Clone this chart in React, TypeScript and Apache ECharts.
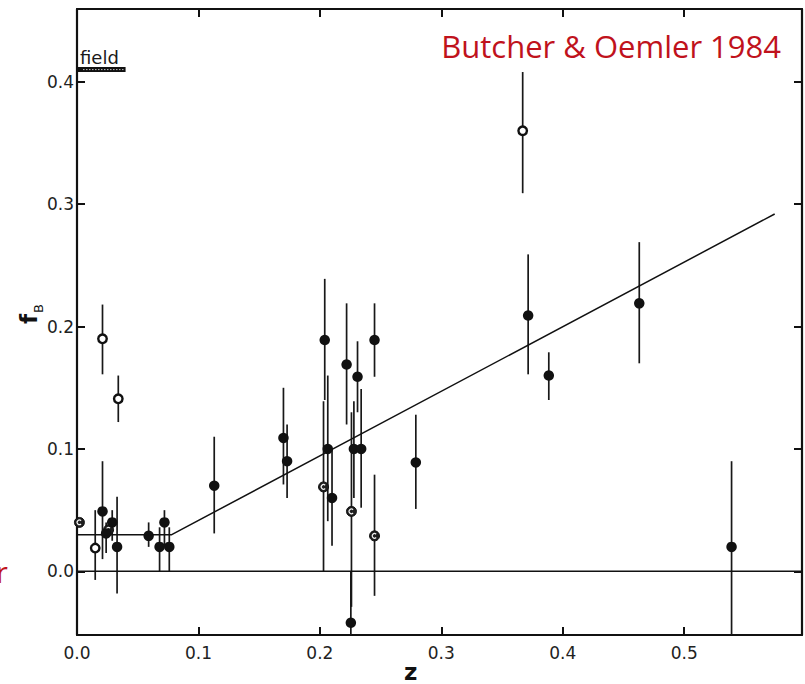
import React, { useEffect, useRef } from "react";
import * as echarts from "echarts";

// Axis extents (redshift z, blue fraction fB)
const X_MIN = 0;
const X_MAX = 0.597;
const Y_MIN = -0.052;
const Y_MAX = 0.4595;

const xTickValues = [0, 0.1, 0.2, 0.3, 0.4, 0.5];
const yTickValues = [0, 0.1, 0.2, 0.3, 0.4];

// Clusters: [z, fB, lower end of error bar, upper end of error bar]
const filledClusters = [
  [0.021, 0.049, 0.010, 0.090],
  [0.024, 0.031, 0.015, 0.040],
  [0.029, 0.040, 0.025, 0.050],
  [0.033, 0.020, -0.018, 0.061],
  [0.059, 0.029, 0.020, 0.040],
  [0.068, 0.020, 0.0, 0.036],
  [0.072, 0.040, 0.020, 0.050],
  [0.076, 0.020, 0.0, 0.036],
  [0.113, 0.070, 0.031, 0.110],
  [0.170, 0.109, 0.071, 0.150],
  [0.173, 0.090, 0.060, 0.120],
  [0.204, 0.189, 0.140, 0.239],
  [0.2065, 0.100, 0.041, 0.160],
  [0.210, 0.060, 0.021, 0.100],
  [0.222, 0.169, 0.120, 0.219],
  [0.2255, -0.042, -0.06, 0.0],
  [0.228, 0.100, 0.060, 0.139],
  [0.231, 0.159, 0.130, 0.188],
  [0.234, 0.100, 0.052, 0.149],
  [0.245, 0.189, 0.159, 0.219],
  [0.279, 0.089, 0.051, 0.128],
  [0.3715, 0.209, 0.161, 0.259],
  [0.3885, 0.160, 0.140, 0.179],
  [0.463, 0.219, 0.170, 0.269],
  [0.539, 0.020, -0.06, 0.090],
];

const openClusters = [
  [0.015, 0.019, -0.007, 0.050],
  [0.021, 0.190, 0.161, 0.218],
  [0.034, 0.141, 0.122, 0.160],
  [0.367, 0.360, 0.309, 0.408],
];

const halfClusters = [
  [0.002, 0.040, 0.040, 0.040],
  [0.026, 0.034, 0.034, 0.034],
  [0.203, 0.069, 0.0, 0.139],
  [0.226, 0.049, -0.029, 0.130],
  [0.245, 0.029, -0.020, 0.079],
];

// Field galaxy level: [z from, z to, fB]
const fieldBand = [[0, 0.04, 0.41]];

// Fitted trend: flat at low z, then rising linearly
const trendLine = [
  [0, 0.03],
  [0.078, 0.03],
  [0.5745, 0.292],
];

const zeroLine = [
  [X_MIN, 0],
  [X_MAX, 0],
];

const INK = "#111111";
const LABEL_FONT = "DejaVu Sans";

function frameAxis(position: string, showLabels: boolean, ticks: number[], isX: boolean) {
  return {
    type: "value",
    position,
    min: isX ? X_MIN : Y_MIN,
    max: isX ? X_MAX : Y_MAX,
    axisLine: { show: true, onZero: false, lineStyle: { color: INK, width: 2.2 } },
    axisTick: {
      show: true,
      inside: true,
      length: 8,
      customValues: ticks,
      lineStyle: { color: INK, width: 2 },
    },
    axisLabel: {
      show: showLabels,
      customValues: ticks,
      formatter: (v: number) => v.toFixed(1),
      margin: isX ? 9 : 3,
      fontFamily: LABEL_FONT,
      fontSize: 17,
      color: "#222",
    },
    splitLine: { show: false },
  };
}

function errorBarItem(params: any, api: any) {
  const z = api.value(0);
  const lo = api.value(2);
  const hi = api.value(3);
  if (lo === hi) return null;
  const a = api.coord([z, lo]);
  const b = api.coord([z, hi]);
  return {
    type: "line",
    shape: { x1: a[0], y1: a[1], x2: b[0], y2: b[1] },
    style: { stroke: "#181818", lineWidth: 1.7 },
  };
}

function halfMarkerItem(params: any, api: any) {
  const p = api.coord([api.value(0), api.value(1)]);
  return {
    type: "group",
    children: [
      {
        type: "circle",
        shape: { cx: p[0], cy: p[1], r: 5 },
        style: { fill: "#1e1e1e", stroke: INK, lineWidth: 1 },
      },
      {
        type: "arc",
        shape: {
          cx: p[0],
          cy: p[1],
          r: 2.3,
          startAngle: Math.PI / 4,
          endAngle: (7 * Math.PI) / 4,
          clockwise: true,
        },
        style: { stroke: "#f2f2f2", lineWidth: 1.2, fill: null },
      },
    ],
  };
}

function fieldBandItem(params: any, api: any) {
  const a = api.coord([api.value(0), api.value(2)]);
  const b = api.coord([api.value(1), api.value(2)]);
  return {
    type: "group",
    children: [
      {
        type: "rect",
        shape: { x: a[0], y: a[1] - 2.5, width: b[0] - a[0], height: 5 },
        style: { fill: INK },
      },
      {
        type: "line",
        shape: { x1: a[0] + 6, y1: a[1], x2: b[0] - 2, y2: b[1] },
        style: { stroke: "#bdbdbd", lineWidth: 1, lineDash: [1.5, 1.5] },
      },
      {
        type: "text",
        x: a[0] + 3,
        y: a[1] - 3,
        style: {
          text: "field",
          fontFamily: LABEL_FONT,
          fontSize: 18,
          fill: "#1a1a1a",
          verticalAlign: "bottom",
          align: "left",
        },
      },
    ],
  };
}

export default function App() {
  const ref = useRef<HTMLDivElement>(null);

  useEffect(() => {
    if (!ref.current) return;
    const chart = echarts.init(ref.current, undefined, { renderer: "svg" });

    chart.setOption({
      animation: false,
      backgroundColor: "#ffffff",
      grid: { left: 77, right: 3, top: 9, bottom: 49, containLabel: false },
      xAxis: [
        frameAxis("bottom", true, xTickValues, true),
        frameAxis("top", false, xTickValues, true),
      ],
      yAxis: [
        frameAxis("left", true, yTickValues, false),
        frameAxis("right", false, yTickValues, false),
      ],
      graphic: [
        {
          type: "text",
          right: 24,
          top: 30,
          style: {
            text: "Butcher & Oemler 1984",
            fontFamily: "Open Sans",
            fontSize: 31,
            fill: "#c0121c",
          },
        },
        {
          type: "text",
          left: -4,
          top: 557,
          style: {
            text: "r",
            fontFamily: "Open Sans",
            fontSize: 29,
            fill: "#c0121c",
          },
        },
        {
          type: "text",
          left: 404,
          top: 660,
          style: {
            text: "z",
            fontFamily: LABEL_FONT,
            fontWeight: "bold",
            fontSize: 23,
            fill: "#111",
          },
        },
        {
          type: "text",
          x: 40,
          y: 324,
          rotation: Math.PI / 2,
          style: {
            text: "f",
            fontFamily: LABEL_FONT,
            fontWeight: "bold",
            fontSize: 23,
            fill: "#111",
            align: "left",
            verticalAlign: "bottom",
          },
        },
        {
          type: "text",
          x: 45,
          y: 313,
          rotation: Math.PI / 2,
          style: {
            text: "B",
            fontFamily: LABEL_FONT,
            fontSize: 13,
            fill: "#111",
            align: "left",
            verticalAlign: "bottom",
          },
        },
      ],
      series: [
        {
          type: "line",
          data: zeroLine,
          symbol: "none",
          silent: true,
          lineStyle: { color: INK, width: 1.5 },
        },
        {
          type: "line",
          data: trendLine,
          symbol: "none",
          silent: true,
          lineStyle: { color: INK, width: 1.5 },
        },
        {
          type: "custom",
          data: fieldBand,
          renderItem: fieldBandItem,
          encode: { x: 0, y: 2 },
          silent: true,
        },
        {
          type: "custom",
          data: [...filledClusters, ...openClusters, ...halfClusters],
          renderItem: errorBarItem,
          encode: { x: 0, y: 1 },
          clip: true,
          silent: true,
        },
        {
          type: "scatter",
          data: filledClusters.map((d) => [d[0], d[1]]),
          symbol: "circle",
          symbolSize: 10.5,
          itemStyle: { color: INK, opacity: 1 },
          silent: true,
        },
        {
          type: "scatter",
          data: openClusters.map((d) => [d[0], d[1]]),
          symbol: "circle",
          symbolSize: 8.5,
          itemStyle: { color: "#ffffff", borderColor: INK, borderWidth: 2.4, opacity: 1 },
          silent: true,
        },
        {
          type: "custom",
          data: halfClusters,
          renderItem: halfMarkerItem,
          encode: { x: 0, y: 1 },
          silent: true,
        },
      ],
    });

    return () => chart.dispose();
  }, []);

  return (
    <div
      ref={ref}
      style={{ position: "absolute", left: 0, top: 0, width: 805, height: 684 }}
    />
  );
}
